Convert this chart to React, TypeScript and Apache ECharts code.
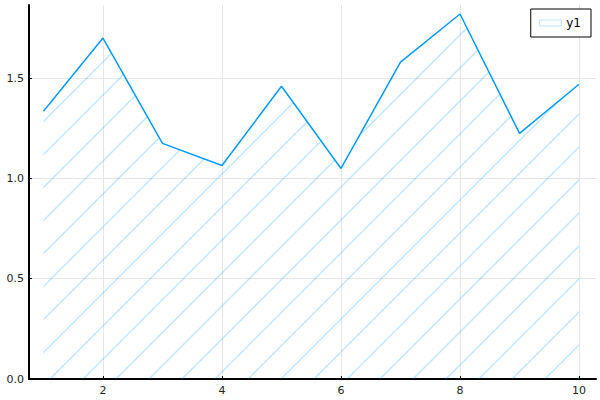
import React, { useEffect, useRef } from "react";
import * as echarts from "echarts";

const xValues = [1, 2, 3, 4, 5, 6, 7, 8, 9, 10];
const y1 = [1.335, 1.70, 1.175, 1.065, 1.46, 1.05, 1.58, 1.82, 1.225, 1.47];
const seriesName = "y1";

function makeHatch(): HTMLCanvasElement {
  const s = 33;
  const c = document.createElement("canvas");
  c.width = s;
  c.height = s;
  const ctx = c.getContext("2d")!;
  ctx.strokeStyle = "rgba(0,154,249,0.25)";
  ctx.lineWidth = 1.5;
  for (const off of [-s, 0, s]) {
    ctx.beginPath();
    ctx.moveTo(off, s + 0);
    ctx.lineTo(off + s, 0);
    ctx.stroke();
  }
  return c;
}

export default function App() {
  const ref = useRef<HTMLDivElement>(null);
  useEffect(() => {
    if (!ref.current) return;
    const chart = echarts.init(ref.current, undefined, { renderer: "svg" });
    const hatch = makeHatch();
    chart.setOption({
      animation: false,
      backgroundColor: "#ffffff",
      grid: { left: 29, right: 4, top: 5, bottom: 21, containLabel: false },
      legend: {
        show: true,
        right: 9,
        top: 9,
        padding: [8, 10, 8, 8],
        borderColor: "#000",
        borderWidth: 1,
        backgroundColor: "#fff",
        itemWidth: 22,
        itemHeight: 6,
        itemGap: 8,
        icon: "rect",
        itemStyle: { color: "rgba(255,255,255,0)", borderColor: "#bfe5fd", borderWidth: 1 },
        textStyle: { fontSize: 12, color: "#000", fontFamily: "DejaVu Sans" },
        data: [{ name: seriesName, icon: "rect" }],
      },
      xAxis: {
        type: "value",
        min: 0.757,
        max: 10.285,
        splitNumber: 5,
        axisLine: { show: true, onZero: false, lineStyle: { color: "#000", width: 2 } },
        axisTick: { show: true, inside: true, length: 3, lineStyle: { color: "#000" } },
        axisLabel: {
          showMinLabel: false,
          showMaxLabel: false,
          fontSize: 11,
          color: "#222",
          fontFamily: "DejaVu Sans",
          margin: 6,
        },
        splitLine: { show: true, showMinLine: false, showMaxLine: false, lineStyle: { color: "#e6e6e6", width: 1 } },
      },
      yAxis: {
        type: "value",
        min: 0,
        max: 1.865,
        interval: 0.5,
        axisLine: { show: true, onZero: false, lineStyle: { color: "#000", width: 2 } },
        axisTick: { show: true, inside: true, length: 3, lineStyle: { color: "#000" } },
        axisLabel: {
          showMaxLabel: false,
          fontSize: 11,
          color: "#222",
          fontFamily: "DejaVu Sans",
          margin: 5,
          formatter: (v: number) => v.toFixed(1),
        },
        splitLine: { show: true, showMinLine: false, showMaxLine: false, lineStyle: { color: "#e6e6e6", width: 1 } },
      },
      series: [
        {
          name: seriesName,
          type: "line",
          data: xValues.map((x, i) => [x, y1[i]]),
          showSymbol: false,
          symbol: "none",
          lineStyle: { color: "#009af9", width: 1.5 },
          itemStyle: { color: "#009af9" },
          areaStyle: {
            origin: 0,
            opacity: 1,
            color: { image: hatch, repeat: "repeat" },
          },
          z: 3,
        },
      ],
    });
    return () => chart.dispose();
  }, []);
  return <div ref={ref} style={{ width: 600, height: 400, position: "absolute", left: 0, top: 0 }} />;
}
